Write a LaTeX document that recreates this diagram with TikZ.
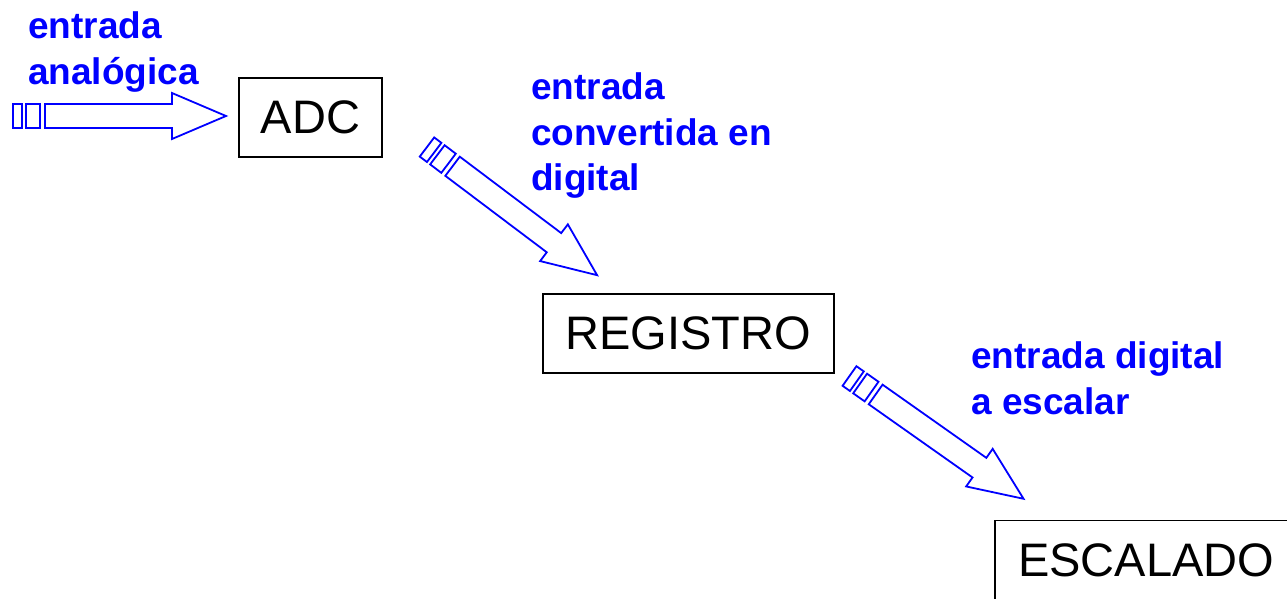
\documentclass[tikz,border=0pt]{standalone}
\usepackage{fontspec}
\setmainfont{Liberation Sans}
\usepackage{xcolor}
\definecolor{sig_blue}{RGB}{0, 0, 255}
\usepackage{tikz}
\usetikzlibrary{positioning}

\begin{document}
\begin{tikzpicture}[x=1pt, y=1pt,
    box/.style={draw, line width=1.5pt, inner sep=0pt,
                minimum width=#1, minimum height=79pt,
                font=\fontsize{47}{56}\selectfont},
    lbl/.style={anchor=north west, inner sep=0pt, align=left, text=sig_blue,
                font=\fontsize{37}{45.5}\selectfont\bfseries},
    flow/.style={draw=sig_blue, line width=1.8pt, line join=miter},
    pics/signalarrow/.style={code={
      \draw[flow] (0,-12) rectangle (9,12);
      \draw[flow] (13,-12) rectangle (27,12);
      \draw[flow] (32,-12) -- (159,-12) -- (159,-23) -- (213,0)
        -- (159,23) -- (159,12) -- (32,12) -- cycle;
    }}]
  \useasboundingbox (0,0) rectangle (1287,-598);
  \clip (0,0) rectangle (1287,-598);

  % blocks
  \node[box=143pt] (adc) at (310.5,-117.7) {ADC};
  \node[box=291pt] (registro) at (688.3,-333.3) {REGISTRO};
  \node[box=302pt, minimum height=80pt] (escalado) at (1146,-560.5) {ESCALADO};

  % labels
  \node[lbl] (lblin) at (28,-11.5) {entrada\\analógica};
  \node[lbl] (lblconv) at (531,-72.5) {entrada\\convertida en\\digital};
  \node[lbl] (lblesc) at (971,-341.5) {entrada digital\\a escalar};

  % signal arrows
  \coordinate (in1) at (13,-116);
  \pic at (in1) {signalarrow};
  \coordinate (in2) at (427,-147);
  \pic[rotate=-37] at (in2) {signalarrow};
  \coordinate (in3) at (849.5,-376);
  \pic[rotate=-35.2] at (in3) {signalarrow};
\end{tikzpicture}
\end{document}
